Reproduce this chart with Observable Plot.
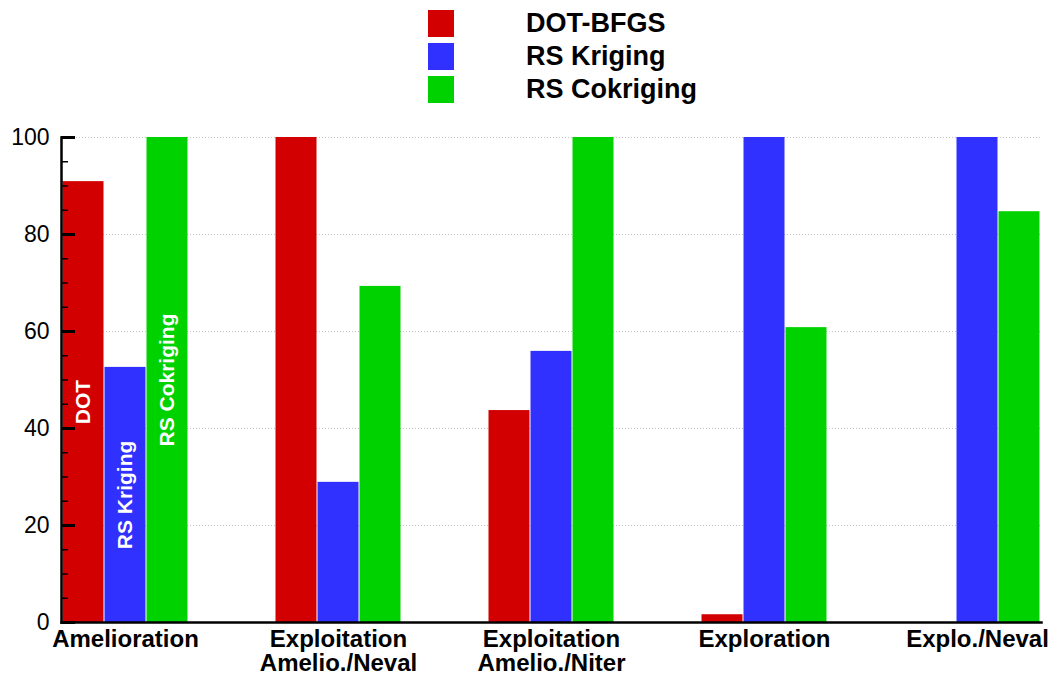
<!DOCTYPE html>
<html><head><meta charset="utf-8">
<script src="https://cdn.jsdelivr.net/npm/d3@7"></script>
<script src="https://cdn.jsdelivr.net/npm/@observablehq/plot@0.6"></script>
<style>
body{margin:0;background:#fff;font-family:"Liberation Sans",Arial,Helvetica,sans-serif;}
#legend{position:relative;width:1061px;height:110px;}
.item{position:absolute;left:428px;display:flex;align-items:center;height:27px;}
.sw{width:26px;height:27px;}
.lab{margin-left:72px;font-weight:bold;font-size:27px;color:#000;line-height:27px;}
</style></head><body>
<div id="legend"></div><div id="chart"></div>
<script>
const categories = ["Amelioration", "Exploitation\nAmelio./Neval", "Exploitation\nAmelio./Niter", "Exploration", "Explo./Neval"];
const series = ["DOT-BFGS", "RS Kriging", "RS Cokriging"];
const colors = ["#d20000", "#3030ff", "#00d200"];
const dotBfgs = [90.9, 100, 43.7, 1.6, 0];
const rsKriging = [52.6, 28.9, 55.9, 100, 100];
const rsCokriging = [100, 69.3, 100, 60.8, 84.7];
const barLabels = ["DOT", "RS Kriging", "RS Cokriging"];
const yTicks = [0, 20, 40, 60, 80, 100];
const minorTicks = [5, 10, 15, 25, 30, 35, 45, 50, 55, 65, 70, 75, 85, 90, 95];
const gridValues = [20, 40, 60, 80, 100];

const values = [dotBfgs, rsKriging, rsCokriging];
const data = categories.flatMap((c, i) => series.map((s, j) => ({category: c, series: s, value: values[j][i], label: barLabels[j]})));
const gridData = categories.flatMap((c, i) => gridValues.map(v => ({category: c, v, last: i === categories.length - 1})));

const legend = document.getElementById("legend");
series.forEach((s, j) => {
  const it = document.createElement("div");
  it.className = "item";
  it.style.top = (10 + 33 * j) + "px";
  it.innerHTML = `<div class="sw" style="background:${colors[j]}"></div><div class="lab">${s}</div>`;
  legend.appendChild(it);
});

const W = 1061, ML = 60, MR = 19;
const paddingInner = 0.4;
const step = (W - ML - MR) / (categories.length - paddingInner);
const gap = step * paddingInner;

const font = '"Liberation Sans", Arial, Helvetica, sans-serif';
const chart = Plot.plot({
  width: W, height: 567,
  marginLeft: ML, marginRight: MR, marginTop: 27, marginBottom: 55,
  style: {fontFamily: font, background: "white", color: "black", overflow: "visible"},
  fx: {domain: categories, paddingInner, paddingOuter: 0, label: null},
  x: {domain: series, padding: 0, axis: null},
  y: {domain: [0, 100], label: null},
  color: {domain: series, range: colors},
  marks: [
    Plot.ruleY(gridData.filter(d => !d.last), {fx: "category", y: "v", stroke: "#c4c4c4", strokeDasharray: "1,2", insetRight: -gap}),
    Plot.ruleY(gridData.filter(d => d.last), {fx: "category", y: "v", stroke: "#c4c4c4", strokeDasharray: "1,2"}),
    Plot.barY(data, {fx: "category", x: "series", y: "value", fill: "series", insetLeft: 0.5, insetRight: 0.5}),
    Plot.text(data.filter(d => d.category === categories[0]), {fx: "category", x: "series", y: d => d.value / 2, text: "label", rotate: -90, fill: "white", fontWeight: "bold", fontSize: 21}),
    Plot.axisFx({anchor: "bottom", tickSize: 0, tickPadding: 7, fontSize: 24, fontWeight: "bold", lineHeight: 1.02, label: null}),
    Plot.axisY(yTicks, {tickSize: 0, tickPadding: 12, fontSize: 23, label: null}),
    Plot.axisY(minorTicks, {tickSize: -7, tickFormat: () => "", strokeWidth: 1.5, label: null}),
    Plot.axisY(yTicks, {tickSize: -14, tickFormat: () => "", strokeWidth: 3, label: null}),
    Plot.frame({anchor: "left", facet: "super", strokeWidth: 2.5}),
    Plot.frame({anchor: "bottom", facet: "super", strokeWidth: 2.5})
  ]
});
document.getElementById("chart").appendChild(chart);
</script>
</body></html>
